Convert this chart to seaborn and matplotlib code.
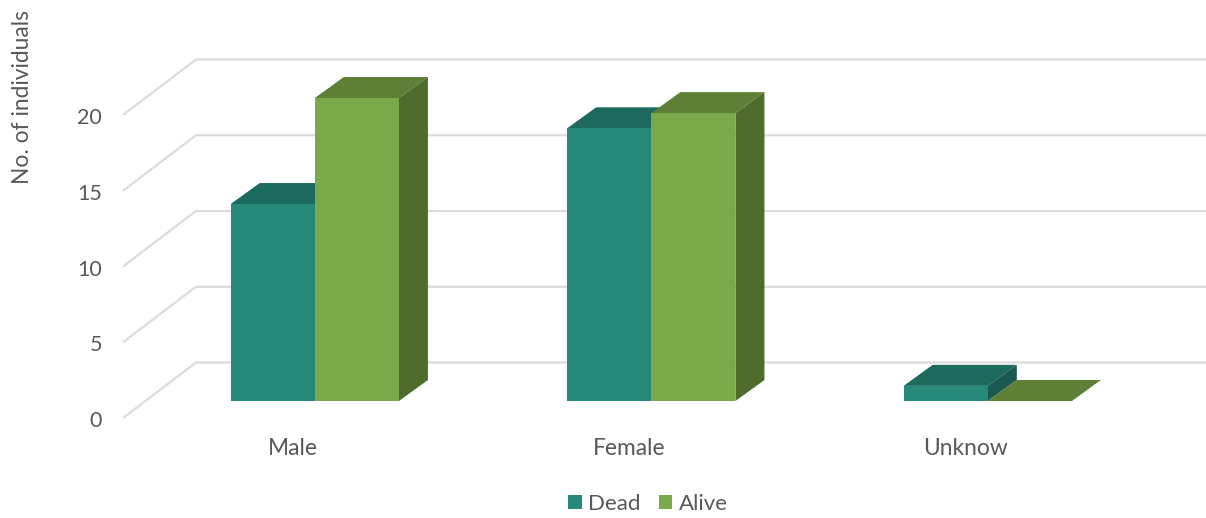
import matplotlib
matplotlib.use("Agg")
import matplotlib.pyplot as plt
from matplotlib.patches import Polygon
from matplotlib.transforms import ScaledTranslation
import pandas as pd
import seaborn as sns

categories = ["Male", "Female", "Unknow"]
dead = [13, 18, 1]
alive = [20, 19, 0]
y_ticks = [0, 5, 10, 15, 20]

TEXT = "#595959"
GRID = "#dcdcdc"
FRONT = {"Dead": "#26897a", "Alive": "#7aa84a"}
TOP = {"Dead": "#1c695d", "Alive": "#5e8036"}
SIDE = {"Dead": "#19594f", "Alive": "#4f6c2d"}

sns.set_style("white")
plt.rcParams["font.family"] = ["Lato", "DejaVu Sans"]

W, H, DPI = 1206, 518, 100
X_UNIT = 336.5   # pixels per category step
Y_UNIT = 15.15   # pixels per individual
LEFT, BASE = 123, 401
X_ORIGIN = 314.8 # pixel position of the first category

fig = plt.figure(figsize=(W / DPI, H / DPI), dpi=DPI, facecolor="white")
ax = fig.add_axes([LEFT / W, (H - BASE) / H, (W - LEFT) / W, BASE / H])

frame = pd.DataFrame({
    "sex": categories * 2,
    "status": ["Dead"] * len(dead) + ["Alive"] * len(alive),
    "count": dead + alive,
})
sns.barplot(data=frame, x="sex", y="count", hue="status", palette=FRONT,
            order=categories, hue_order=["Dead", "Alive"], width=0.5, gap=0,
            saturation=1, errorbar=None, linewidth=0, ax=ax)

x_left = (LEFT - X_ORIGIN) / X_UNIT
x_right = (W - X_ORIGIN) / X_UNIT
ax.set_xlim(x_left, x_right)
ax.set_ylim(0, BASE / Y_UNIT)

# Oblique projection offsets, in data units
bar_dx, bar_dy = 29 / X_UNIT, 21 / Y_UNIT
wall_dx = 73 / X_UNIT
wall_front, wall_back = -17 / Y_UNIT, 38.5 / Y_UNIT

# Floor and back-wall gridlines
for v in y_ticks:
    ax.plot([x_left, x_left + wall_dx, x_right],
            [v + wall_front, v + wall_back, v + wall_back],
            color=GRID, lw=1.6, zorder=0.5, clip_on=False,
            solid_joinstyle="miter", solid_capstyle="butt")

# Top and side faces extruded from every drawn bar
for i, (status, container) in enumerate(zip(["Dead", "Alive"], ax.containers)):
    base_z = 2 + i
    for bar in container:
        x0, w, h = bar.get_x(), bar.get_width(), bar.get_height()
        x1 = x0 + w
        bar.set_zorder(base_z + 0.5)
        ax.add_patch(Polygon(
            [(x0, h), (x1, h), (x1 + bar_dx, h + bar_dy), (x0 + bar_dx, h + bar_dy)],
            closed=True, facecolor=TOP[status], edgecolor="none",
            zorder=base_z, clip_on=False))
        if h > 0:
            ax.add_patch(Polygon(
                [(x1, 0), (x1, h), (x1 + bar_dx, h + bar_dy), (x1 + bar_dx, bar_dy)],
                closed=True, facecolor=SIDE[status], edgecolor="none",
                zorder=base_z, clip_on=False))

sns.despine(ax=ax, left=True, bottom=True, top=True, right=True)
ax.grid(False)
ax.set_xlabel("")
ax.set_yticks(y_ticks)
ax.tick_params(axis="y", length=0, pad=15, labelsize=15.5, labelcolor=TEXT)
ax.tick_params(axis="x", length=0, pad=26.7, labelsize=16.4, labelcolor=TEXT)

# Tick labels sit on the front edge of the floor, not on the bar plane
for lbl in ax.get_yticklabels():
    lbl.set_transform(lbl.get_transform()
                      + ScaledTranslation(0, -18 / DPI, fig.dpi_scale_trans))
for lbl in ax.get_xticklabels():
    lbl.set_transform(lbl.get_transform()
                      + ScaledTranslation(-22 / DPI, 0, fig.dpi_scale_trans))

ax.set_ylabel("No. of individuals", fontsize=16.4, color=TEXT)
ax.yaxis.set_label_coords((33 - LEFT) / (W - LEFT), (BASE - 96.5) / BASE)

sns.move_legend(ax, "center", bbox_to_anchor=(648 / W, (H - 504) / H),
                bbox_transform=fig.transFigure, ncol=2, frameon=False, title=None,
                fontsize=16, labelcolor=TEXT, handlelength=0.62, handleheight=0.62,
                handletextpad=0.28, columnspacing=0.8, borderpad=0, borderaxespad=0)

fig.savefig("out.png", dpi=DPI, facecolor="white")
